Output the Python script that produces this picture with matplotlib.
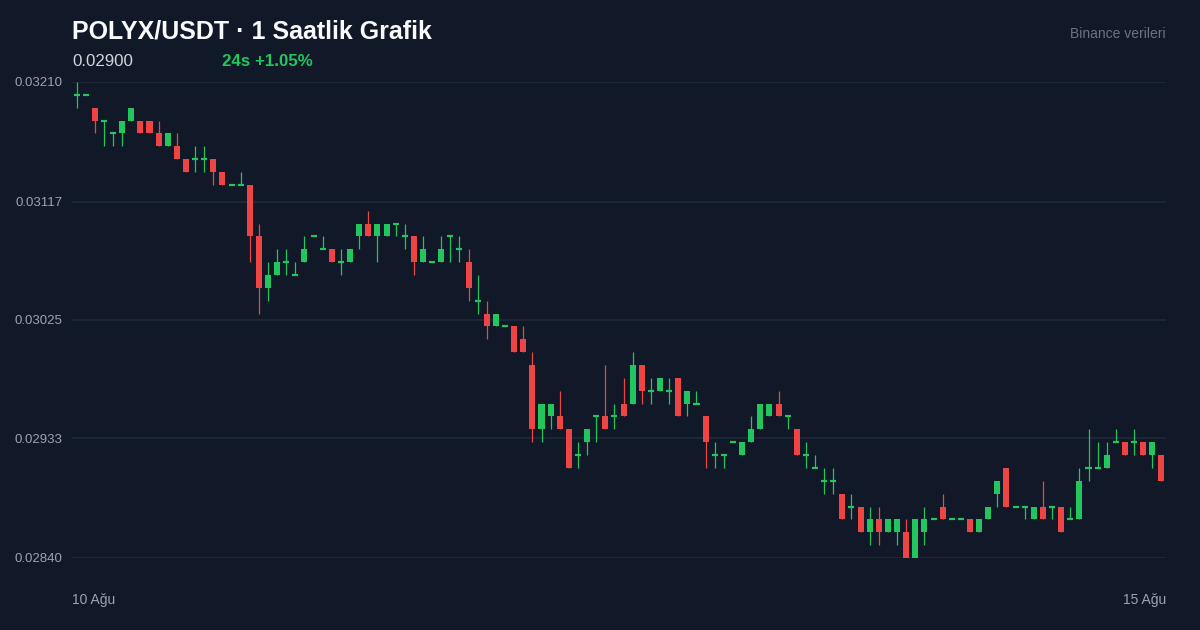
import matplotlib
matplotlib.use("Agg")
import matplotlib.pyplot as plt
import numpy as np

plt.rcParams['font.family'] = ['Liberation Sans', 'DejaVu Sans']

# Hourly candles, prices in units of 1e-4 USDT
opens = [320, 320, 319, 318, 317, 317, 318, 318, 318, 317,
         316, 316, 315, 315, 315, 315, 314, 313, 313, 313,
         309, 305, 306, 307, 306, 307, 309, 308, 308, 307,
         307, 309, 310, 309, 309, 310, 309, 309, 307, 307,
         307, 309, 308, 307, 304, 303, 302, 302, 302, 301,
         299, 294, 295, 295, 294, 292, 293, 295, 295, 295,
         296, 296, 299, 297, 297, 297, 298, 296, 296, 295,
         292, 292, 293, 292, 293, 294, 295, 296, 295, 294,
         292, 291, 290, 290, 289, 288, 288, 286, 287, 286,
         286, 286, 284, 286, 287, 288, 287, 287, 287, 286,
         287, 289, 291, 288, 288, 287, 288, 288, 288, 287,
         287, 291, 291, 291, 293, 293, 293, 293, 292, 292]
highs = [321, 320, 319, 318, 317, 318, 319, 318, 318, 318,
         317, 317, 315, 316, 316, 315, 314, 313, 314, 313,
         310, 307, 308, 308, 307, 309, 309, 309, 308, 308,
         308, 310, 311, 310, 310, 310, 310, 309, 309, 307,
         309, 309, 309, 308, 306, 304, 303, 302, 302, 302,
         300, 296, 296, 297, 294, 293, 294, 295, 299, 296,
         298, 300, 299, 298, 298, 298, 298, 297, 297, 295,
         293, 292, 293, 293, 295, 296, 296, 297, 295, 294,
         293, 292, 291, 291, 289, 289, 288, 288, 288, 287,
         287, 287, 287, 288, 287, 289, 287, 287, 287, 287,
         288, 290, 291, 288, 288, 288, 290, 288, 288, 288,
         291, 294, 293, 293, 294, 293, 294, 293, 293, 292]
lows = [319, 320, 317, 316, 316, 316, 318, 317, 317, 316,
        316, 315, 314, 314, 314, 313, 313, 313, 313, 307,
        303, 304, 306, 306, 306, 307, 309, 308, 307, 306,
        307, 308, 309, 307, 309, 309, 308, 306, 307, 307,
        307, 307, 307, 304, 303, 301, 302, 302, 300, 300,
        293, 293, 294, 294, 291, 291, 292, 293, 294, 294,
        295, 296, 296, 296, 297, 296, 295, 295, 296, 291,
        291, 291, 293, 292, 293, 294, 295, 295, 294, 292,
        291, 291, 289, 289, 287, 287, 286, 285, 285, 286,
        285, 284, 284, 285, 287, 287, 287, 287, 286, 286,
        287, 288, 288, 288, 287, 287, 287, 287, 286, 287,
        287, 290, 291, 291, 293, 292, 292, 292, 291, 290]
closes = [320, 320, 318, 318, 317, 318, 319, 317, 317, 316,
          317, 315, 314, 315, 315, 314, 313, 313, 313, 309,
          305, 306, 307, 307, 306, 308, 309, 308, 307, 307,
          308, 310, 309, 310, 310, 310, 309, 307, 308, 307,
          308, 309, 308, 305, 304, 302, 303, 302, 300, 300,
          294, 296, 296, 294, 291, 292, 294, 295, 294, 295,
          295, 299, 297, 297, 298, 297, 295, 297, 296, 293,
          292, 292, 293, 293, 294, 296, 296, 295, 295, 292,
          292, 291, 290, 290, 287, 288, 286, 287, 286, 287,
          287, 284, 287, 287, 287, 287, 287, 287, 286, 287,
          288, 290, 288, 288, 288, 288, 287, 288, 286, 287,
          290, 291, 291, 292, 293, 292, 293, 292, 293, 290]

y_ticks = [0.02840, 0.02933, 0.03025, 0.03117, 0.03210]
y_tick_labels = ["0.02840", "0.02933", "0.03025", "0.03117", "0.03210"]
x_labels = ["10 Ağu", "15 Ağu"]

title = "POLYX/USDT · 1 Saatlik Grafik"
last_price = "0.02900"
change_text = "24s +1.05%"
source_text = "Binance verileri"

BG = "#111827"
GRID = "#1f2937"
UP = "#22c55e"
DOWN = "#ef4444"

o = np.array(opens) / 1e4
h = np.array(highs) / 1e4
l = np.array(lows) / 1e4
c = np.array(closes) / 1e4
x = np.arange(len(o))
up = c >= o
colors = np.where(up, UP, DOWN)

fig = plt.figure(figsize=(12, 6.3), dpi=100, facecolor=BG)
ax = fig.add_axes([72 / 1200, 72 / 630, 1094 / 1200, 476 / 630], facecolor=BG)

# grid
for yv in y_ticks:
    ax.axhline(yv, color=GRID, lw=1.2, zorder=0)

# wicks
ax.vlines(x, l, h, colors=colors, lw=0.9, zorder=2)

# bodies
body_w = 0.66
flat = o == c
ax.bar(x[~flat], np.abs(c - o)[~flat], bottom=np.minimum(o, c)[~flat],
       width=body_w, color=colors[~flat], linewidth=0, zorder=3)
ax.hlines(o[flat], x[flat] - body_w / 2, x[flat] + body_w / 2,
          colors=colors[flat], lw=1.6, zorder=3)

ax.set_xlim(-0.5, len(o) - 0.5)
ax.set_ylim(y_ticks[0], y_ticks[-1])
ax.set_yticks(y_ticks)
ax.set_yticklabels(y_tick_labels)
ax.set_xticks([])
ax.tick_params(axis='y', length=0, pad=7, labelsize=9.5, labelcolor="#9ca3af")
for s in ax.spines.values():
    s.set_visible(False)

# header
fig.text(72 / 1200, 1 - 38.5 / 630, title, fontsize=18, fontweight='bold',
         color="#f9fafb", va='baseline', ha='left')
fig.text(72 / 1200, 1 - 66 / 630, last_price, fontsize=12.2,
         color="#d1d5db", va='baseline', ha='left')
fig.text(222 / 1200, 1 - 66 / 630, change_text, fontsize=12.2, fontweight='bold',
         color=UP, va='baseline', ha='left')
fig.text(1166 / 1200, 1 - 38 / 630, source_text, fontsize=10,
         color="#6b7280", va='baseline', ha='right')

# date labels
fig.text(72 / 1200, 1 - 604 / 630, x_labels[0], fontsize=10,
         color="#9ca3af", va='baseline', ha='left')
fig.text(1166 / 1200, 1 - 604 / 630, x_labels[1], fontsize=10,
         color="#9ca3af", va='baseline', ha='right')

fig.savefig("out.png", dpi=100, facecolor=BG)
